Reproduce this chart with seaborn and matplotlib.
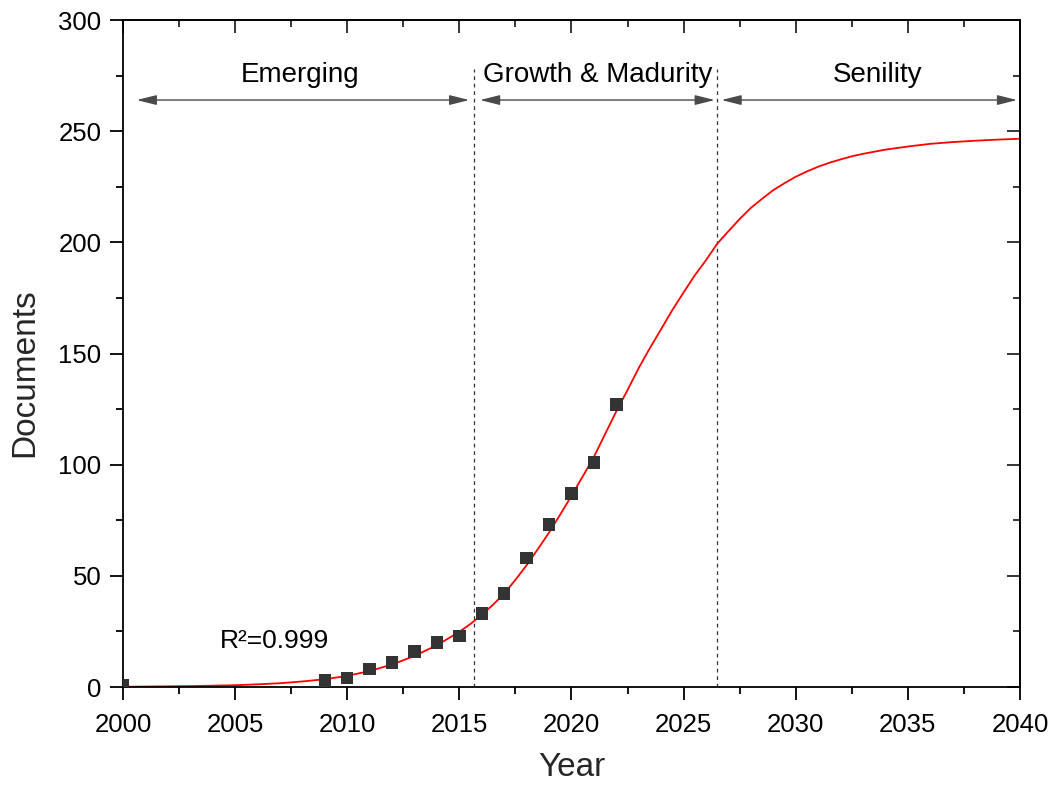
import matplotlib
matplotlib.use("Agg")
import matplotlib.pyplot as plt
from matplotlib.ticker import MultipleLocator
import seaborn as sns
import pandas as pd

# ---- data ----
years = [2000, 2009, 2010, 2011, 2012, 2013, 2014, 2015, 2016, 2017, 2018, 2019, 2020, 2021, 2022]
documents = [1, 3, 4, 8, 11, 16, 20, 23, 33, 42, 58, 73, 87, 101, 127]

fit_years = [2000, 2001, 2002, 2003, 2004, 2005, 2006, 2007, 2008, 2009,
             2010, 2011, 2012, 2013, 2014, 2015, 2015.5, 2016, 2016.5, 2017,
             2017.5, 2018, 2018.5, 2019, 2019.5, 2020, 2020.5, 2021, 2021.5, 2022,
             2022.5, 2023, 2023.5, 2024, 2024.5, 2025, 2025.5, 2026, 2026.5, 2027,
             2027.5, 2028, 2028.5, 2029, 2029.5, 2030, 2030.5, 2031, 2031.5, 2032,
             2032.5, 2033, 2034, 2035, 2036, 2037, 2038, 2039, 2040]
fit_documents = [0.1, 0.2, 0.3, 0.4, 0.6, 0.8, 1.2, 1.7, 2.5, 3.5,
                 5.0, 7.2, 10.1, 14.0, 18.8, 24.8, 28.4, 32.5, 37.0, 42.0,
                 48.2, 54.8, 62.0, 69.5, 77.6, 86.0, 94.7, 103.5, 113.8, 124.0,
                 133.6, 143.5, 152.5, 161.0, 169.6, 177.5, 185.2, 192.0, 199.4, 205.0,
                 210.5, 215.5, 219.6, 223.5, 226.6, 229.5, 231.9, 234.0, 235.8, 237.3,
                 238.7, 239.8, 241.7, 243.1, 244.3, 245.1, 245.7, 246.2, 246.6]

stage_names = ["Emerging", "Growth & Madurity", "Senility"]
stage_bounds = [2015.65, 2026.5]
r2_text = "R\u00b2=0.999"

x_ticks = [2000, 2005, 2010, 2015, 2020, 2025, 2030, 2035, 2040]
y_ticks = [0, 50, 100, 150, 200, 250, 300]

# ---- style ----
sns.set_style("ticks")
plt.rcParams["font.family"] = ["Liberation Sans", "DejaVu Sans"]

fig = plt.figure(figsize=(10.51, 7.86), dpi=100)
ax = fig.add_axes([0.11703, 0.12595, 0.85347, 0.84860])

pts = pd.DataFrame({"Year": years, "Documents": documents})
fit = pd.DataFrame({"Year": fit_years, "Documents": fit_documents})

sns.lineplot(data=fit, x="Year", y="Documents", color="#ff0000", lw=1.3, ax=ax, zorder=2)
sns.scatterplot(data=pts, x="Year", y="Documents", marker="s", s=80, color="#333333",
                edgecolor="none", linewidth=0, ax=ax, zorder=3)

ax.set_xlim(2000, 2040)
ax.set_ylim(0, 300)
ax.set_xticks(x_ticks)
ax.set_yticks(y_ticks)
ax.xaxis.set_minor_locator(MultipleLocator(2.5))
ax.yaxis.set_minor_locator(MultipleLocator(25))

for sp in ax.spines.values():
    sp.set_visible(True)
    sp.set_linewidth(1.3)
    sp.set_color("black")

ax.tick_params(which="major", direction="out", length=9.5, width=1.3, labelsize=18.5,
               color="black", labelcolor="black", top=False, right=False)
ax.tick_params(which="minor", direction="out", length=5, width=1.3, color="black",
               top=False, right=False)
ax.tick_params(axis="x", which="major", pad=9)
ax.tick_params(axis="y", which="major", pad=6)

# mirrored inward ticks on top and right
secx = ax.secondary_xaxis("top")
secx.set_xticks(x_ticks)
secx.xaxis.set_minor_locator(MultipleLocator(2.5))
secx.tick_params(which="major", direction="in", length=9.5, width=1.3, labeltop=False)
secx.tick_params(which="minor", direction="in", length=5, width=1.3)
secx.spines["top"].set_linewidth(1.3)
secy = ax.secondary_yaxis("right")
secy.set_yticks(y_ticks)
secy.yaxis.set_minor_locator(MultipleLocator(25))
secy.tick_params(which="major", direction="in", length=9.5, width=1.3, labelright=False)
secy.tick_params(which="minor", direction="in", length=5, width=1.3)
secy.spines["right"].set_linewidth(1.3)

ax.set_xlabel("Year", fontsize=24)
ax.set_ylabel("Documents", fontsize=24)
ax.xaxis.set_label_coords(0.5, -0.098)
ax.yaxis.set_label_coords(-0.092, 0.472)

# stage boundaries
for b in stage_bounds:
    ax.plot([b, b], [0, 278], color="#333333", lw=0.9, ls=(0, (3, 3)), zorder=1)

# stage arrows
arrow_spans = [(2000.61, 2015.44), (2015.92, 2026.39), (2026.69, 2039.87)]
label_x = [2007.89, 2021.15, 2033.66]
for (x0, x1), name, lx in zip(arrow_spans, stage_names, label_x):
    ax.annotate("", xy=(x1, 264), xytext=(x0, 264),
                arrowprops=dict(arrowstyle="<|-|>,head_length=1.2,head_width=0.3",
                                mutation_scale=10, color="#4a4a4a", lw=1.0,
                                shrinkA=0, shrinkB=0))
    ax.text(lx, 272, name, ha="center", va="baseline", fontsize=20, color="black")

ax.text(2004.32, 17.5, r2_text, ha="left", va="baseline", fontsize=19, color="black")

fig.savefig("out.png", dpi=100)
